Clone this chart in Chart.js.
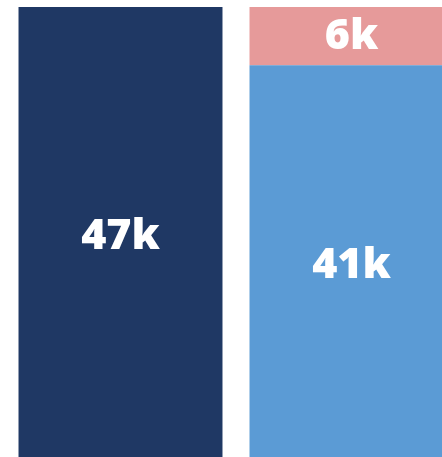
<!DOCTYPE html>
<html>
<head>
<meta charset="utf-8">
<script src="https://cdn.jsdelivr.net/npm/chart.js@4/dist/chart.umd.min.js"></script>
<style>
  html, body { margin: 0; padding: 0; background: #fff; overflow: hidden; }
  #wrap { width: 442px; height: 457px; overflow: hidden; }
</style>
</head>
<body>
<div id="wrap">
  <canvas id="myChart" width="467" height="464"></canvas>
</div>
<script>
// valores em milhares
var categorias = ['Total', 'Divisão'];
var totalGeral = [47, null];
var parteAzul = [null, 41];
var parteRosa = [null, 6];

// escreve o valor no meio de cada barra
const rotulos = {
    id: 'rotulos',
    afterDatasetsDraw(chart) {
        const ctx = chart.ctx;
        ctx.save();
        ctx.fillStyle = '#ffffff';
        ctx.font = '800 43px "Open Sans"';
        ctx.textAlign = 'center';
        ctx.textBaseline = 'middle';
        chart.data.datasets.forEach((ds, i) => {
            chart.getDatasetMeta(i).data.forEach((bar, j) => {
                const v = ds.data[j];
                if (v == null) return;
                ctx.fillText(v + 'k', bar.x, (bar.y + bar.base) / 2 + 1);
            });
        });
        ctx.restore();
    }
};

function desenhar() {
    const ctx = document.getElementById('myChart').getContext('2d');
    new Chart(ctx, {
        type: 'bar',
        data: {
            labels: categorias,
            datasets: [
                { label: 'Total', data: totalGeral, backgroundColor: '#1f3864' },
                { label: 'Azul', data: parteAzul, backgroundColor: '#5b9bd5' },
                { label: 'Rosa', data: parteRosa, backgroundColor: '#e69a9a' }
            ]
        },
        options: {
            responsive: false,
            animation: false,
            layout: { padding: { left: 5, top: 7, right: 0, bottom: 0 } },
            datasets: {
                bar: { barPercentage: 1, categoryPercentage: 0.883, borderWidth: 0 }
            },
            plugins: {
                legend: { display: false },
                tooltip: { enabled: false }
            },
            scales: {
                x: { stacked: true, display: false },
                y: { stacked: true, display: false, min: 0, max: 47 }
            }
        },
        plugins: [rotulos]
    });
}

document.fonts.load('800 43px "Open Sans"').then(desenhar, desenhar);
</script>
</body>
</html>
